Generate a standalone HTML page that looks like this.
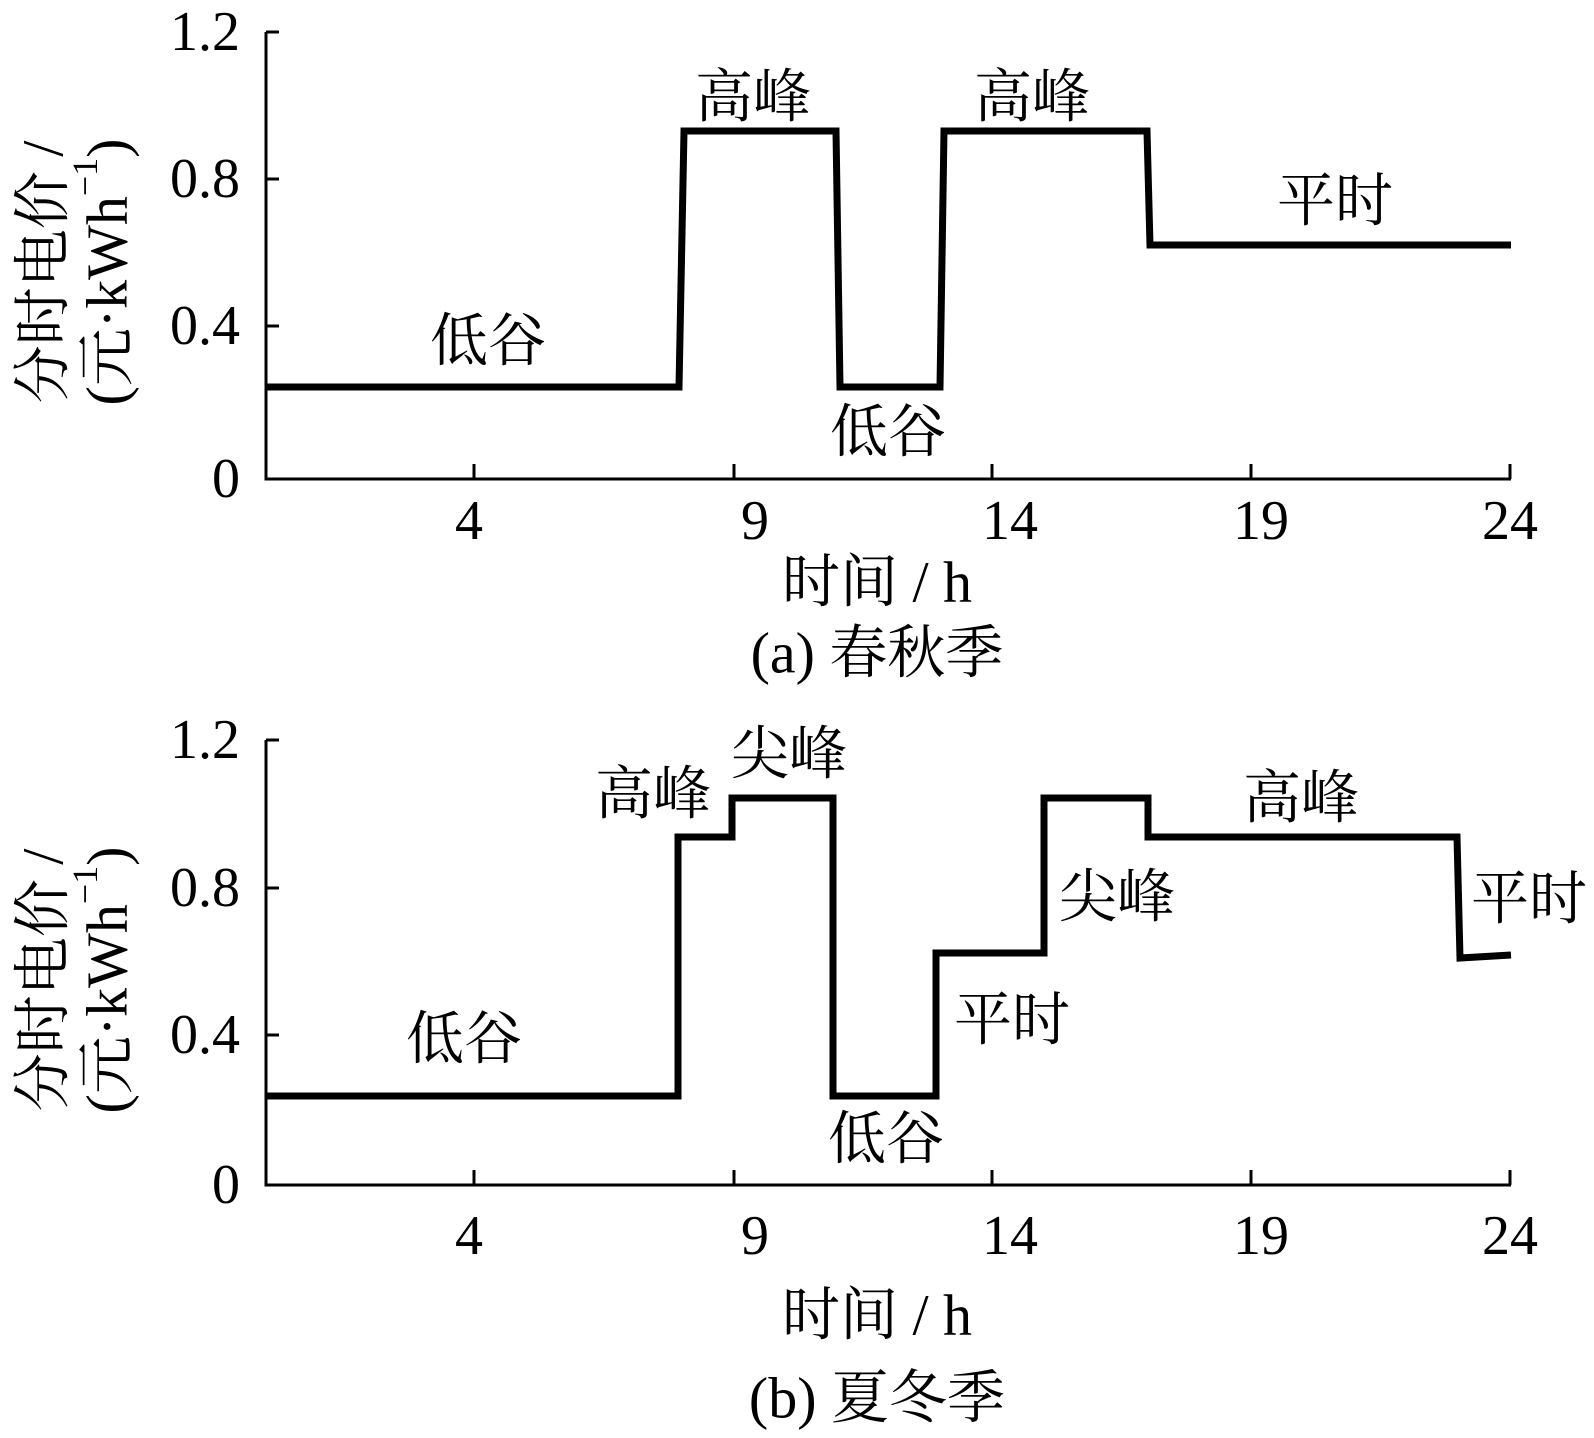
<!DOCTYPE html>
<html><head><meta charset="utf-8"><style>
html,body{margin:0;padding:0;background:#fff;}
svg{display:block;}
text{font-family:"Liberation Serif","Noto Serif CJK SC",serif;fill:#000;}
.c{font-size:58px;}
.n{font-size:56px;}
</style></head><body>
<svg width="1594" height="1438" viewBox="0 0 1594 1438" xmlns="http://www.w3.org/2000/svg">
<g stroke="#000" stroke-width="3" fill="none">
<polyline points="266,32 266,479 1511,479"/>
<line x1="266" y1="32" x2="279" y2="32"/><line x1="266" y1="179" x2="279" y2="179"/><line x1="266" y1="326" x2="279" y2="326"/>
<line x1="474" y1="479" x2="474" y2="464"/><line x1="734" y1="479" x2="734" y2="464"/><line x1="992" y1="479" x2="992" y2="464"/><line x1="1251" y1="479" x2="1251" y2="464"/><line x1="1510" y1="479" x2="1510" y2="464"/>
<polyline points="266,740 266,1185 1511,1185"/>
<line x1="266" y1="740" x2="279" y2="740"/><line x1="266" y1="888" x2="279" y2="888"/><line x1="266" y1="1035" x2="279" y2="1035"/>
<line x1="474" y1="1185" x2="474" y2="1170"/><line x1="734" y1="1185" x2="734" y2="1170"/><line x1="992" y1="1185" x2="992" y2="1170"/><line x1="1251" y1="1185" x2="1251" y2="1170"/><line x1="1510" y1="1185" x2="1510" y2="1170"/>
</g>
<g stroke="#000" stroke-width="7" fill="none" stroke-linejoin="miter">
<polyline points="266,387 679,387 684,131 836,131 840,387 940,387 944,131 1147,131 1150,245 1511,245"/>
<polyline points="266,1096 678,1096 678,837 732,837 732,798 833,798 833,1096 936,1096 936,953 1044,953 1044,798 1148,798 1148,837 1457,837 1460,958 1511,955"/>
</g>
<g dominant-baseline="central" text-anchor="middle">
<text class="c" x="753" y="97">高峰</text>
<text class="c" x="1032" y="97">高峰</text>
<text class="c" x="1335" y="201">平时</text>
<text class="c" x="488" y="341">低谷</text>
<text class="c" x="888" y="432">低谷</text>
<text class="n" x="469" y="521">4</text><text class="n" x="755" y="521">9</text><text class="n" x="1010" y="521">14</text><text class="n" x="1261" y="521">19</text><text class="n" x="1510" y="521">24</text>
<text class="c" x="877" y="582">时间 / h</text>
<text class="c" x="877" y="653">(a)  春秋季</text>

<text class="c" x="789" y="754">尖峰</text>
<text class="c" x="653" y="794">高峰</text>
<text class="c" x="1301" y="798">高峰</text>
<text class="c" x="1117" y="897">尖峰</text>
<text class="c" x="1529" y="899">平时</text>
<text class="c" x="1012" y="1020">平时</text>
<text class="c" x="464" y="1039">低谷</text>
<text class="c" x="886" y="1139">低谷</text>
<text class="n" x="469" y="1236">4</text><text class="n" x="755" y="1236">9</text><text class="n" x="1010" y="1236">14</text><text class="n" x="1261" y="1236">19</text><text class="n" x="1510" y="1236">24</text>
<text class="c" x="877" y="1315">时间 / h</text>
<text class="c" x="877" y="1398">(b)  夏冬季</text>
</g>
<g dominant-baseline="central" text-anchor="end">
<text class="n" x="240" y="32">1.2</text><text class="n" x="240" y="179">0.8</text><text class="n" x="240" y="326">0.4</text><text class="n" x="240" y="479">0</text>
<text class="n" x="240" y="740">1.2</text><text class="n" x="240" y="888">0.8</text><text class="n" x="240" y="1035">0.4</text><text class="n" x="240" y="1185">0</text>
</g>
<g dominant-baseline="central" text-anchor="middle">
<text class="c" font-size="62" transform="translate(43,272) rotate(-90)">分时电价 /</text>
<text class="c" font-size="62" transform="translate(107,272) rotate(-90)">(元·kWh<tspan font-size="36" dy="-22">−1</tspan><tspan dy="22">)</tspan></text>
<text class="c" font-size="62" transform="translate(43,980) rotate(-90)">分时电价 /</text>
<text class="c" font-size="62" transform="translate(107,980) rotate(-90)">(元·kWh<tspan font-size="36" dy="-22">−1</tspan><tspan dy="22">)</tspan></text>
</g>
</svg>
</body></html>
